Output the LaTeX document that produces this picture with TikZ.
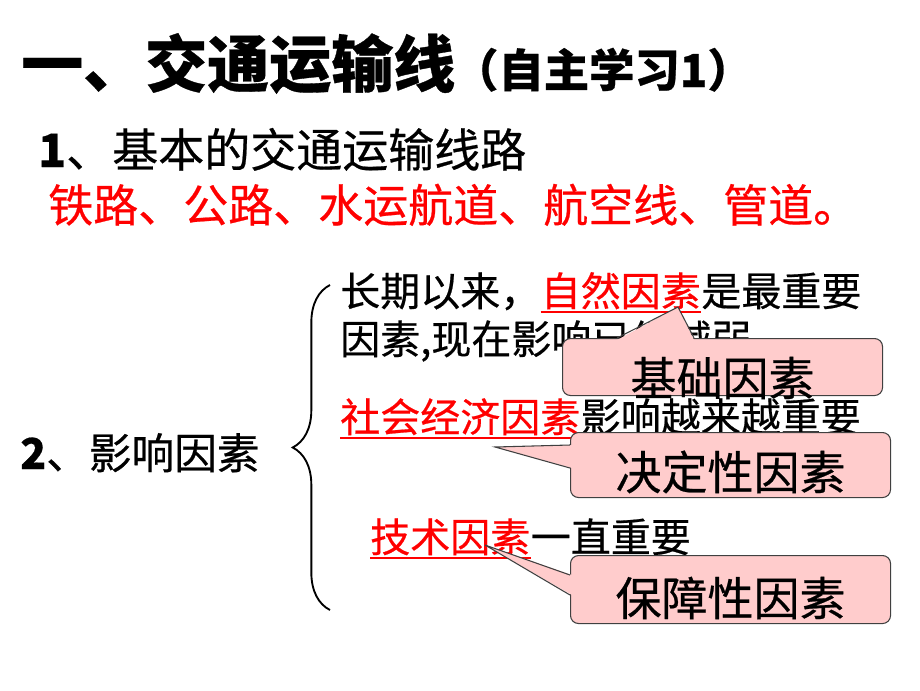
\documentclass[tikz,border=0pt]{standalone}
\usepackage{fontspec}
\setmainfont{Noto Sans CJK SC}[FakeBold=0.5]
\usetikzlibrary{positioning,calc,decorations.pathreplacing}
\definecolor{hired}{RGB}{255,0,0}
\definecolor{calloutpink}{RGB}{255,204,204}

\begin{document}
\begin{tikzpicture}[x=0.75pt,y=-0.75pt]
\tikzset{
  txt/.style={inner sep=0pt, anchor=base west, font=\fontsize{30}{36}\selectfont},
  keyword/.style={txt, text=hired},
  underline/.style={hired, line width=1.1pt},
  callbox/.style={draw=black!75, line width=0.8pt, fill=calloutpink, rounded corners=6pt,
    inner sep=0pt, text width=240pt, align=center, anchor=north west,
    font=\fontsize{34.5}{40}\selectfont},
  pointer/.style={draw=black!75, line width=0.8pt},
}
\useasboundingbox (0,0) rectangle (920,690);

% heading
\node[anchor=base west, inner sep=0pt, font=\bfseries\fontsize{46.5}{52}\selectfont] (title) at (21,87) {一、交通运输线};
\node[anchor=base west, inner sep=0pt, font=\bfseries\fontsize{34}{40}\selectfont] (self) at ([xshift=-2pt]title.base east) {（自主学习1）};

% basic lines
\node[txt, font=\fontsize{34.5}{40}\selectfont] (lines) at (38,167) {{\bfseries 1}、基本的交通运输线路};
\node[keyword, font=\fontsize{33.75}{40}\selectfont] (modes) at (48,222) {铁路、公路、水运航道、航空线、管道。};

% factors
\node[txt, font=\fontsize{32}{38}\selectfont] (factors) at (20,469) {{\bfseries 2}、影响因素};
\draw[line width=1.4pt, decorate, decoration={brace, amplitude=28pt}] (330,610) -- (330,285);

\node[txt] (long) at (340,306) {长期以来，};
\node[keyword] (nature) at (long.base east) {自然因素};
\node[txt] (most) at (nature.base east) {是最重要};
\node[txt] (weak) at (340,354) {因素,现在影响已经减弱};
\draw[underline] ([yshift=-4.5pt]nature.base west) -- ([yshift=-4.5pt]nature.base east);

\node[keyword] (social) at (340,432) {社会经济因素};
\node[txt] (rising) at (social.base east) {影响越来越重要};
\draw[underline] ([yshift=-4.5pt]social.base west) -- ([yshift=-4.5pt]social.base east);

\node[keyword] (tech) at (370,552) {技术因素};
\node[txt] (always) at (tech.base east) {一直重要};
\draw[underline] ([yshift=-4.5pt]tech.base west) -- ([yshift=-4.5pt]tech.base east);

% callouts
\node[callbox, text height=42.75pt, text depth=0pt] (basis) at (562,338) {基础因素};
\coordinate (natTip) at (678,307);
\fill[calloutpink] ($(basis.north west)+(55,2)$) -- (natTip) -- ($(basis.north west)+(132,2)$) -- cycle;
\draw[pointer] ($(basis.north west)+(55,0)$) -- (natTip) -- ($(basis.north west)+(132,0)$);

\node[callbox, text height=42.75pt, text depth=6pt] (deciding) at (570,432) {决定性因素};
\coordinate (socTip) at (495,447);
\fill[calloutpink] ($(deciding.north west)+(2,13)$) -- (socTip) -- ($(deciding.north west)+(2,36)$) -- cycle;
\draw[pointer] ($(deciding.north west)+(0,13)$) -- (socTip) -- ($(deciding.north west)+(0,36)$);

\node[callbox, text height=45pt, text depth=6pt] (guarantee) at (570,555) {保障性因素};
\coordinate (techTip) at (485,545);
\fill[calloutpink] ($(guarantee.north west)+(2,20)$) -- (techTip) -- ($(guarantee.north west)+(2,40)$) -- cycle;
\draw[pointer] ($(guarantee.north west)+(0,20)$) -- (techTip) -- ($(guarantee.north west)+(0,40)$);

\end{tikzpicture}
\end{document}
